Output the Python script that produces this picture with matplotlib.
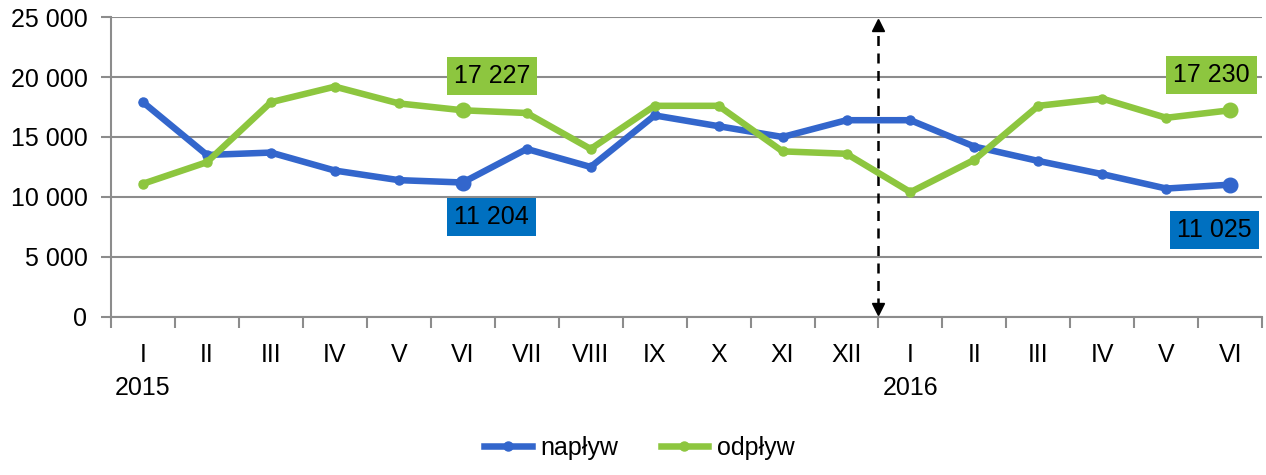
import numpy as np
import matplotlib.pyplot as plt
from matplotlib.ticker import FuncFormatter, FixedLocator

plt.rcParams['font.family'] = ['Liberation Sans', 'DejaVu Sans']

# dane
miesiace = ['I', 'II', 'III', 'IV', 'V', 'VI', 'VII', 'VIII', 'IX', 'X', 'XI', 'XII',
            'I', 'II', 'III', 'IV', 'V', 'VI']
lata = {0: '2015', 12: '2016'}
naplyw = [17900, 13500, 13700, 12200, 11400, 11204, 14000, 12500, 16800, 15900, 15000, 16400,
          16400, 14200, 13000, 11900, 10700, 11025]
odplyw = [11100, 12900, 17900, 19200, 17800, 17227, 17000, 14000, 17600, 17600, 13800, 13600,
          10400, 13100, 17600, 18200, 16600, 17230]

c_blue = '#3366cc'
c_green = '#8dc63f'
c_grid = '#8c8c8c'
fs = 18

fig = plt.figure(figsize=(12.66, 4.75), dpi=100)
ax = fig.add_axes([0.0877, 0.333, 0.9093, 0.631])

x = np.arange(len(miesiace))
ax.plot(x, naplyw, color=c_blue, lw=4.7, marker='o', ms=6.5, label='napływ', zorder=3)
ax.plot(x, odplyw, color=c_green, lw=4.7, marker='o', ms=6.5, label='odpływ', zorder=3)

# wyróżnione punkty (VI)
for i in (5, 17):
    ax.plot(x[i], naplyw[i], 'o', color=c_blue, ms=10.5, zorder=4)
    ax.plot(x[i], odplyw[i], 'o', color=c_green, ms=10.5, zorder=4)

def fmt(v):
    return f'{v:,}'.replace(',', ' ')

labels = [(5, odplyw[5], c_green, (29, 34)),
          (5, naplyw[5], '#0070c0', (29, -34)),
          (17, odplyw[17], c_green, (-19, 35)),
          (17, naplyw[17], '#0070c0', (-16, -45))]
for i, v, col, off in labels:
    ax.annotate(fmt(v), xy=(x[i], v), xytext=off, textcoords='offset pixels',
                ha='center', va='center', fontsize=fs, color='black', zorder=5,
                bbox=dict(boxstyle='square,pad=0.28', fc=col, ec='none'))

# strzałka oddzielająca lata
ax.plot([11.5, 11.5], [700, 24200], color='black', lw=1.8, ls=(0, (4, 3)), zorder=2)
ax.plot(11.5, 24300, marker='^', color='black', ms=9, zorder=2)
ax.plot(11.5, 650, marker='v', color='black', ms=9, zorder=2)

ax.set_xlim(-0.5, len(miesiace) - 0.5)
ax.set_ylim(0, 25000)
ax.set_yticks(np.arange(0, 25001, 5000))
ax.yaxis.set_major_formatter(FuncFormatter(lambda v, p: fmt(int(v))))
ax.grid(axis='y', color=c_grid, lw=1.5)
ax.set_axisbelow(True)

# osie X: podziałki na granicach, etykiety w środku
ax.xaxis.set_major_locator(FixedLocator(np.arange(-0.5, len(miesiace), 1)))
ax.xaxis.set_major_formatter(FuncFormatter(lambda v, p: ''))
ax.xaxis.set_minor_locator(FixedLocator(x))
ax.set_xticklabels([m + ('\n' + lata[i] if i in lata else '\n') for i, m in enumerate(miesiace)],
                   minor=True)
ax.tick_params(axis='x', which='minor', length=0, pad=19, labelsize=fs)
ax.tick_params(axis='x', which='major', length=8, color=c_grid, width=1.5)
ax.tick_params(axis='y', length=7, color=c_grid, width=1.5, labelsize=fs, pad=10)
for lbl in ax.get_xticklabels(minor=True):
    lbl.set_linespacing(1.45)

for s in ('top', 'right'):
    ax.spines[s].set_visible(False)
for s in ('left', 'bottom'):
    ax.spines[s].set_color(c_grid)
    ax.spines[s].set_linewidth(1.5)

fig.legend(loc='lower center', bbox_to_anchor=(0.505, -0.015), ncol=2, frameon=False,
           fontsize=fs, handlelength=1.9, columnspacing=1.7, handletextpad=0.35)

fig.savefig('out.png', dpi=100)
